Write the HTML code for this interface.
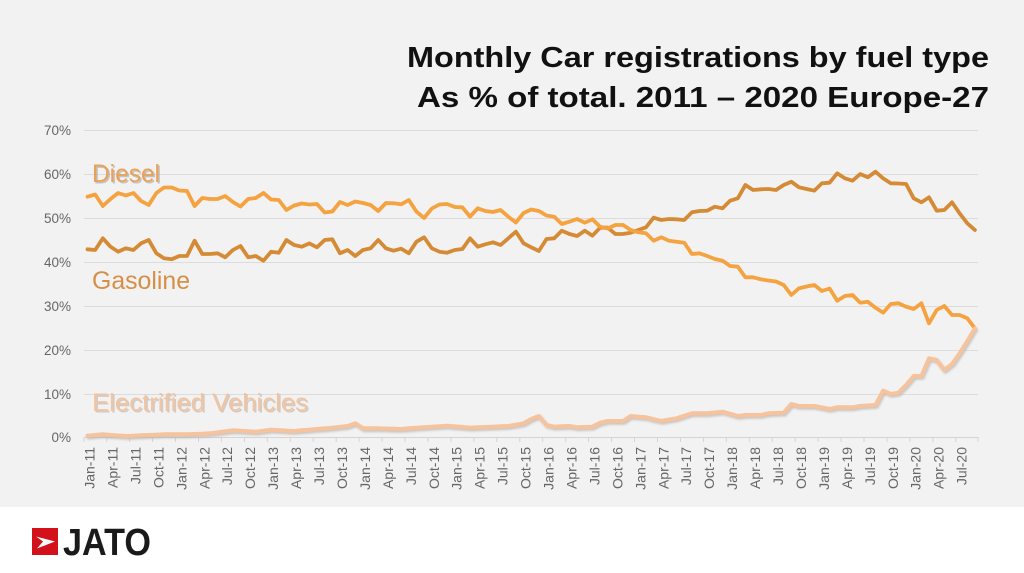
<!DOCTYPE html>
<html>
<head>
<meta charset="utf-8">
<style>
html,body{margin:0;padding:0;background:#fff;}
body{width:1024px;height:573px;overflow:hidden;}
svg{display:block;}
</style>
</head>
<body>
<svg width="1024" height="573" viewBox="0 0 1024 573" xmlns="http://www.w3.org/2000/svg">
<defs>
<filter id="sh" x="-5%" y="-20%" width="110%" height="140%">
<feGaussianBlur stdDeviation="1"/>
</filter>
</defs>
<rect x="0" y="0" width="1024" height="507" fill="#f2f2f2"/>
<rect x="0" y="507" width="1024" height="66" fill="#ffffff"/>

<!-- Title -->
<g font-family="'Liberation Sans', Arial, sans-serif" font-weight="bold" font-size="29" fill="#111" text-anchor="end">
<text x="989" y="67" textLength="582" lengthAdjust="spacingAndGlyphs">Monthly Car registrations by fuel type</text>
<text x="989" y="107" textLength="572" lengthAdjust="spacingAndGlyphs">As % of total. 2011 – 2020 Europe-27</text>
</g>

<!-- gridlines -->
<g stroke="#dcdcdc" stroke-width="1">
<line x1="84" y1="130.5" x2="978" y2="130.5"/>
<line x1="84" y1="174.5" x2="978" y2="174.5"/>
<line x1="84" y1="218.5" x2="978" y2="218.5"/>
<line x1="84" y1="262.5" x2="978" y2="262.5"/>
<line x1="84" y1="306.5" x2="978" y2="306.5"/>
<line x1="84" y1="350.5" x2="978" y2="350.5"/>
<line x1="84" y1="394.5" x2="978" y2="394.5"/>
<line x1="84" y1="437.5" x2="978" y2="437.5" stroke="#d4d4d4"/>
</g>

<!-- ticks -->
<g stroke="#d4d4d4" stroke-width="1">
<line x1="84" y1="437" x2="84" y2="442"/>
<line x1="106.7" y1="437" x2="106.7" y2="442"/>
<line x1="129.6" y1="437" x2="129.6" y2="442"/>
<line x1="152.6" y1="437" x2="152.6" y2="442"/>
<line x1="175.5" y1="437" x2="175.5" y2="442"/>
<line x1="198.5" y1="437" x2="198.5" y2="442"/>
<line x1="221.4" y1="437" x2="221.4" y2="442"/>
<line x1="244.4" y1="437" x2="244.4" y2="442"/>
<line x1="267.3" y1="437" x2="267.3" y2="442"/>
<line x1="290.3" y1="437" x2="290.3" y2="442"/>
<line x1="313.2" y1="437" x2="313.2" y2="442"/>
<line x1="336.2" y1="437" x2="336.2" y2="442"/>
<line x1="359.1" y1="437" x2="359.1" y2="442"/>
<line x1="382.1" y1="437" x2="382.1" y2="442"/>
<line x1="405" y1="437" x2="405" y2="442"/>
<line x1="428" y1="437" x2="428" y2="442"/>
<line x1="450.9" y1="437" x2="450.9" y2="442"/>
<line x1="473.9" y1="437" x2="473.9" y2="442"/>
<line x1="496.8" y1="437" x2="496.8" y2="442"/>
<line x1="519.8" y1="437" x2="519.8" y2="442"/>
<line x1="542.7" y1="437" x2="542.7" y2="442"/>
<line x1="565.7" y1="437" x2="565.7" y2="442"/>
<line x1="588.6" y1="437" x2="588.6" y2="442"/>
<line x1="611.6" y1="437" x2="611.6" y2="442"/>
<line x1="634.5" y1="437" x2="634.5" y2="442"/>
<line x1="657.5" y1="437" x2="657.5" y2="442"/>
<line x1="680.4" y1="437" x2="680.4" y2="442"/>
<line x1="703.4" y1="437" x2="703.4" y2="442"/>
<line x1="726.3" y1="437" x2="726.3" y2="442"/>
<line x1="749.3" y1="437" x2="749.3" y2="442"/>
<line x1="772.2" y1="437" x2="772.2" y2="442"/>
<line x1="795.2" y1="437" x2="795.2" y2="442"/>
<line x1="818.1" y1="437" x2="818.1" y2="442"/>
<line x1="841.1" y1="437" x2="841.1" y2="442"/>
<line x1="864" y1="437" x2="864" y2="442"/>
<line x1="887" y1="437" x2="887" y2="442"/>
<line x1="909.9" y1="437" x2="909.9" y2="442"/>
<line x1="932.9" y1="437" x2="932.9" y2="442"/>
<line x1="955.8" y1="437" x2="955.8" y2="442"/>
<line x1="978" y1="437" x2="978" y2="442"/>
</g>

<!-- y labels -->
<g font-family="'Liberation Sans', Arial, sans-serif" font-size="13.5" fill="#666" text-anchor="end">
<text x="71" y="135">70%</text>
<text x="71" y="179">60%</text>
<text x="71" y="223">50%</text>
<text x="71" y="267">40%</text>
<text x="71" y="311">30%</text>
<text x="71" y="355">20%</text>
<text x="71" y="399">10%</text>
<text x="71" y="442">0%</text>
</g>

<!-- x labels -->
<g font-family="'Liberation Sans', Arial, sans-serif" font-size="14" fill="#666" text-anchor="end">
<text transform="translate(94.5,447) rotate(-90)">Jan-11</text>
<text transform="translate(117.5,447) rotate(-90)">Apr-11</text>
<text transform="translate(140.4,447) rotate(-90)">Jul-11</text>
<text transform="translate(163.4,447) rotate(-90)">Oct-11</text>
<text transform="translate(186.3,447) rotate(-90)">Jan-12</text>
<text transform="translate(209.3,447) rotate(-90)">Apr-12</text>
<text transform="translate(232.2,447) rotate(-90)">Jul-12</text>
<text transform="translate(255.2,447) rotate(-90)">Oct-12</text>
<text transform="translate(278.1,447) rotate(-90)">Jan-13</text>
<text transform="translate(301.1,447) rotate(-90)">Apr-13</text>
<text transform="translate(324,447) rotate(-90)">Jul-13</text>
<text transform="translate(347,447) rotate(-90)">Oct-13</text>
<text transform="translate(369.9,447) rotate(-90)">Jan-14</text>
<text transform="translate(392.9,447) rotate(-90)">Apr-14</text>
<text transform="translate(415.8,447) rotate(-90)">Jul-14</text>
<text transform="translate(438.8,447) rotate(-90)">Oct-14</text>
<text transform="translate(461.7,447) rotate(-90)">Jan-15</text>
<text transform="translate(484.7,447) rotate(-90)">Apr-15</text>
<text transform="translate(507.6,447) rotate(-90)">Jul-15</text>
<text transform="translate(530.6,447) rotate(-90)">Oct-15</text>
<text transform="translate(553.5,447) rotate(-90)">Jan-16</text>
<text transform="translate(576.5,447) rotate(-90)">Apr-16</text>
<text transform="translate(599.4,447) rotate(-90)">Jul-16</text>
<text transform="translate(622.4,447) rotate(-90)">Oct-16</text>
<text transform="translate(645.3,447) rotate(-90)">Jan-17</text>
<text transform="translate(668.3,447) rotate(-90)">Apr-17</text>
<text transform="translate(691.2,447) rotate(-90)">Jul-17</text>
<text transform="translate(714.2,447) rotate(-90)">Oct-17</text>
<text transform="translate(737.1,447) rotate(-90)">Jan-18</text>
<text transform="translate(760.1,447) rotate(-90)">Apr-18</text>
<text transform="translate(783,447) rotate(-90)">Jul-18</text>
<text transform="translate(806,447) rotate(-90)">Oct-18</text>
<text transform="translate(828.9,447) rotate(-90)">Jan-19</text>
<text transform="translate(851.9,447) rotate(-90)">Apr-19</text>
<text transform="translate(874.8,447) rotate(-90)">Jul-19</text>
<text transform="translate(897.8,447) rotate(-90)">Oct-19</text>
<text transform="translate(920.7,447) rotate(-90)">Jan-20</text>
<text transform="translate(943.7,447) rotate(-90)">Apr-20</text>
<text transform="translate(966.6,447) rotate(-90)">Jul-20</text>
</g>

<!-- Electrified shadow -->
<polyline fill="none" stroke="#b9b1ab" stroke-opacity="0.7" stroke-width="4" stroke-linejoin="round" stroke-linecap="round" filter="url(#sh)" transform="translate(1.2,1.8)" points="87.5,435.7 95.2,435 102.8,434.3 110.5,435 118.1,435.5 125.8,436 133.4,435.7 141.1,435.3 148.7,435 156.4,434.7 164,434.3 171.7,434.3 179.3,434.3 187,434.3 194.6,434 202.3,433.7 209.9,433.3 217.6,432.3 225.2,431.3 232.9,430.3 240.5,430.8 248.2,431.2 255.8,431.7 263.5,430.7 271.1,429.7 278.8,430.1 286.4,430.6 294.1,431 301.7,430.3 309.4,429.7 317,429 324.7,428.4 332.3,427.7 340,426.8 347.6,426 355.3,423.3 362.9,428.3 370.6,428.3 378.2,428.3 385.9,428.5 393.5,428.8 401.2,429 408.8,428.3 416.5,427.7 424.1,427.2 431.8,426.7 439.4,426.2 447.1,425.7 454.7,426.4 462.4,427 470,427.7 477.7,427.3 485.3,427 493,426.7 500.6,426.3 508.3,426 515.9,424.7 523.6,423.3 531.2,419 538.9,416 546.5,425 554.2,426.7 561.8,426.3 569.5,426 577.1,427.3 584.8,427 592.4,426.7 600.1,422.7 607.7,421 615.4,421 623,421 630.7,416 638.3,416.7 646,417.3 653.6,419.2 661.3,421 668.9,419.6 676.6,418.3 684.2,415.8 691.9,413.3 699.5,413.3 707.2,413.3 714.8,412.5 722.5,411.7 730.1,413.8 737.8,416 745.4,415 753.1,415 760.7,415 768.4,413.3 776,413 783.7,412.7 791.3,404 799,406 806.6,406 814.3,406 821.9,407.5 829.6,409 837.2,407.3 844.9,407.3 852.5,407.3 860.2,406 867.8,405.5 875.5,405 883.1,390.7 890.8,394 898.4,392.7 906.1,385 913.7,376 921.4,376 929,358.3 936.7,360 944.3,370 952,364 959.6,353.3 967.3,341 974.9,328.3"/>

<!-- Gasoline -->
<polyline fill="none" stroke="#d58b36" stroke-width="3.8" stroke-linejoin="round" stroke-linecap="round" points="87.5,249.3 95.2,250 102.8,238.3 110.5,246.7 118.1,251.7 125.8,248.3 133.4,250 141.1,243.3 148.7,240 156.4,253.3 164,258.3 171.7,259.3 179.3,256 187,256 194.6,240.7 202.3,254 209.9,254 217.6,253.3 225.2,257.3 232.9,250 240.5,246 248.2,257.3 255.8,256 263.5,260.7 271.1,251.7 278.8,252.7 286.4,240 294.1,245 301.7,246.7 309.4,243.4 317,247.3 324.7,240 332.3,239.3 340,253.3 347.6,250 355.3,256 362.9,250 370.6,248.3 378.2,240 385.9,248.3 393.5,250.7 401.2,248.7 408.8,253.3 416.5,241.7 424.1,237.3 431.8,248.3 439.4,251.7 447.1,252.7 454.7,250 462.4,249 470,238.3 477.7,246.7 485.3,244.3 493,242.3 500.6,245 508.3,238.3 515.9,231.7 523.6,243.3 531.2,247.3 538.9,251 546.5,239 554.2,238.3 561.8,230.7 569.5,234 577.1,236 584.8,230.7 592.4,235.7 600.1,227.7 607.7,227.7 615.4,234 623,234 630.7,232.7 638.3,230 646,227.3 653.6,217.7 661.3,220 668.9,219 676.6,219.3 684.2,220 691.9,212.3 699.5,211 707.2,210.7 714.8,206.7 722.5,208.3 730.1,200.7 737.8,198.3 745.4,185 753.1,190 760.7,189.3 768.4,189 776,190 783.7,185 791.3,181.7 799,187.3 806.6,189 814.3,190.7 821.9,183.3 829.6,182.7 837.2,173.3 844.9,178.3 852.5,180.7 860.2,174 867.8,177.3 875.5,171.7 883.1,178.3 890.8,183.3 898.4,183.5 906.1,184 913.7,198.3 921.4,202.3 929,197.3 936.7,210.7 944.3,210 952,202.3 959.6,213.3 967.3,223.3 974.9,230"/>

<!-- Diesel -->
<polyline fill="none" stroke="#f5a240" stroke-width="3.8" stroke-linejoin="round" stroke-linecap="round" points="87.5,196.7 95.2,194.5 102.8,206 110.5,199 118.1,193 125.8,195.5 133.4,193 141.1,201 148.7,205 156.4,193 164,187.5 171.7,187.5 179.3,190.5 187,191 194.6,206 202.3,198 209.9,199 217.6,199 225.2,196 232.9,202 240.5,206.5 248.2,199 255.8,198 263.5,193 271.1,199.5 278.8,200 286.4,210 294.1,205.5 301.7,203.5 309.4,204.5 317,204 324.7,212.5 332.3,211.5 340,202 347.6,205 355.3,201.5 362.9,203 370.6,205 378.2,211 385.9,203 393.5,203.3 401.2,204.3 408.8,200 416.5,211.7 424.1,218 431.8,208.5 439.4,204.5 447.1,204 454.7,207 462.4,207.3 470,216.7 477.7,208.3 485.3,211 493,212 500.6,210 508.3,216.7 515.9,222.5 523.6,213 531.2,209.5 538.9,211 546.5,215.5 554.2,216.7 561.8,224 569.5,221.7 577.1,219 584.8,222.7 592.4,219.3 600.1,226.7 607.7,228.5 615.4,225 623,225 630.7,230 638.3,232.3 646,233.3 653.6,240.7 661.3,237.3 668.9,240.7 676.6,241.7 684.2,242.7 691.9,254 699.5,253.3 707.2,256 714.8,259 722.5,260.7 730.1,266 737.8,266.7 745.4,277.3 753.1,277.3 760.7,279.3 768.4,280.5 776,281.5 783.7,285 791.3,295 799,288.3 806.6,286.5 814.3,285 821.9,291 829.6,288.5 837.2,300.7 844.9,296 852.5,295 860.2,302.7 867.8,301.7 875.5,307.7 883.1,312.7 890.8,304 898.4,303.3 906.1,306.7 913.7,309 921.4,303.3 929,323.3 936.7,310 944.3,306 952,315 959.6,315 967.3,318.3 974.9,328.3"/>

<!-- Electrified -->
<polyline fill="none" stroke="#f6c39d" stroke-width="4" stroke-linejoin="round" stroke-linecap="round" points="87.5,435.7 95.2,435 102.8,434.3 110.5,435 118.1,435.5 125.8,436 133.4,435.7 141.1,435.3 148.7,435 156.4,434.7 164,434.3 171.7,434.3 179.3,434.3 187,434.3 194.6,434 202.3,433.7 209.9,433.3 217.6,432.3 225.2,431.3 232.9,430.3 240.5,430.8 248.2,431.2 255.8,431.7 263.5,430.7 271.1,429.7 278.8,430.1 286.4,430.6 294.1,431 301.7,430.3 309.4,429.7 317,429 324.7,428.4 332.3,427.7 340,426.8 347.6,426 355.3,423.3 362.9,428.3 370.6,428.3 378.2,428.3 385.9,428.5 393.5,428.8 401.2,429 408.8,428.3 416.5,427.7 424.1,427.2 431.8,426.7 439.4,426.2 447.1,425.7 454.7,426.4 462.4,427 470,427.7 477.7,427.3 485.3,427 493,426.7 500.6,426.3 508.3,426 515.9,424.7 523.6,423.3 531.2,419 538.9,416 546.5,425 554.2,426.7 561.8,426.3 569.5,426 577.1,427.3 584.8,427 592.4,426.7 600.1,422.7 607.7,421 615.4,421 623,421 630.7,416 638.3,416.7 646,417.3 653.6,419.2 661.3,421 668.9,419.6 676.6,418.3 684.2,415.8 691.9,413.3 699.5,413.3 707.2,413.3 714.8,412.5 722.5,411.7 730.1,413.8 737.8,416 745.4,415 753.1,415 760.7,415 768.4,413.3 776,413 783.7,412.7 791.3,404 799,406 806.6,406 814.3,406 821.9,407.5 829.6,409 837.2,407.3 844.9,407.3 852.5,407.3 860.2,406 867.8,405.5 875.5,405 883.1,390.7 890.8,394 898.4,392.7 906.1,385 913.7,376 921.4,376 929,358.3 936.7,360 944.3,370 952,364 959.6,353.3 967.3,341 974.9,328.3"/>

<!-- Series labels -->
<g font-family="'Liberation Sans', Arial, sans-serif" font-size="25">
<text x="93.5" y="183.5" fill="#a8a09a" fill-opacity="0.6" textLength="68" lengthAdjust="spacingAndGlyphs">Diesel</text>
<text x="92" y="182" fill="#e9a25a" textLength="68" lengthAdjust="spacingAndGlyphs">Diesel</text>
<text x="92" y="289" fill="#d68f47" textLength="98" lengthAdjust="spacingAndGlyphs">Gasoline</text>
<text x="93.5" y="412.5" fill="#b5aca6" fill-opacity="0.55" textLength="216" lengthAdjust="spacingAndGlyphs">Electrified Vehicles</text>
<text x="92" y="411" fill="#f1c4a2" textLength="216" lengthAdjust="spacingAndGlyphs">Electrified Vehicles</text>
</g>

<!-- JATO logo -->
<rect x="32" y="528" width="26" height="27" fill="#d2111b"/>
<polygon points="36,536.5 55,541.5 37,548.5 43,541.5" fill="#ffffff"/>
<text x="63" y="555" font-family="'Liberation Sans', Arial, sans-serif" font-weight="bold" font-size="38" fill="#1a1a1a" textLength="88" lengthAdjust="spacingAndGlyphs">JATO</text>
</svg>
</body>
</html>
